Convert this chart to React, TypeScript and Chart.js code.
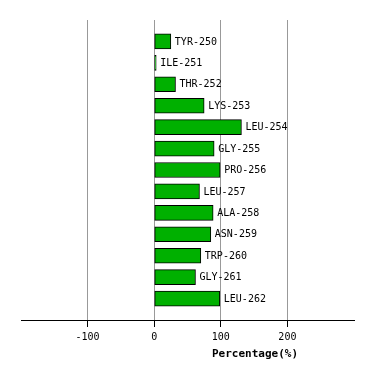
import React, { useEffect, useRef } from "react";
import { Chart, registerables } from "chart.js";

Chart.register(...registerables);

const residues = [
  "TYR-250", "ILE-251", "THR-252", "LYS-253", "LEU-254", "GLY-255", "PRO-256",
  "LEU-257", "ALA-258", "ASN-259", "TRP-260", "GLY-261", "LEU-262",
];
const percentages = [25, 3, 32, 75, 131, 90, 99, 68, 88.5, 85, 70, 62, 98.5];
const xTicks = [-100, 0, 100, 200];
const xMin = -200;
const xMax = 300;
const axisTitle = "Percentage(%)";

const FONT = "'DejaVu Sans Mono', monospace";

export default function App() {
  const ref = useRef<HTMLCanvasElement | null>(null);
  useEffect(() => {
    if (!ref.current) return;
    const labels = ["", ...residues, ""];
    const data = [null, ...percentages, null];
    const labelPlugin = {
      id: "barLabels",
      afterDatasetsDraw(chart: any) {
        const ctx = chart.ctx;
        const meta = chart.getDatasetMeta(0);
        ctx.save();
        ctx.font = `10px ${FONT}`;
        ctx.fillStyle = "#000";
        ctx.textBaseline = "middle";
        ctx.textAlign = "left";
        meta.data.forEach((el: any, i: number) => {
          if (data[i] == null) return;
          ctx.fillText(labels[i], el.x + 4, el.y + 0.5);
        });
        ctx.font = `bold 11px ${FONT}`;
        ctx.textAlign = "center";
        ctx.fillText(axisTitle, 255, 354);
        ctx.restore();
      },
    };
    const chart = new Chart(ref.current, {
      type: "bar",
      data: {
        labels,
        datasets: [
          {
            data,
            backgroundColor: "#00b000",
            borderColor: "#000",
            borderWidth: 1,
            borderSkipped: false,
            barThickness: 15,
          },
        ],
      },
      options: {
        indexAxis: "y",
        animation: false,
        responsive: false,
        maintainAspectRatio: false,
        layout: { padding: { left: 21, right: 20, top: 20, bottom: 0 } },
        plugins: { legend: { display: false }, tooltip: { enabled: false } },
        scales: {
          y: { type: "category", offset: false, display: false },
          x: {
            type: "linear",
            min: xMin,
            max: xMax,
            afterBuildTicks(scale: any) {
              scale.ticks = xTicks.map((v) => ({ value: v }));
            },
            afterFit(scale: any) {
              scale.height = 60;
            },
            grid: {
              color: "#999",
              tickColor: "#000",
              tickLength: 7,
            },
            border: { color: "#000", width: 1 },
            ticks: {
              color: "#000",
              font: { family: FONT, size: 10 },
              padding: 4,
              maxRotation: 0,
            },
          },
        },
      },
      plugins: [labelPlugin],
    } as any);
    return () => chart.destroy();
  }, []);
  return (
    <div style={{ position: "fixed", left: 0, top: 0, width: 374, height: 380, background: "#fff" }}>
      <canvas ref={ref} width={374} height={380} style={{ width: 374, height: 380 }} />
    </div>
  );
}
